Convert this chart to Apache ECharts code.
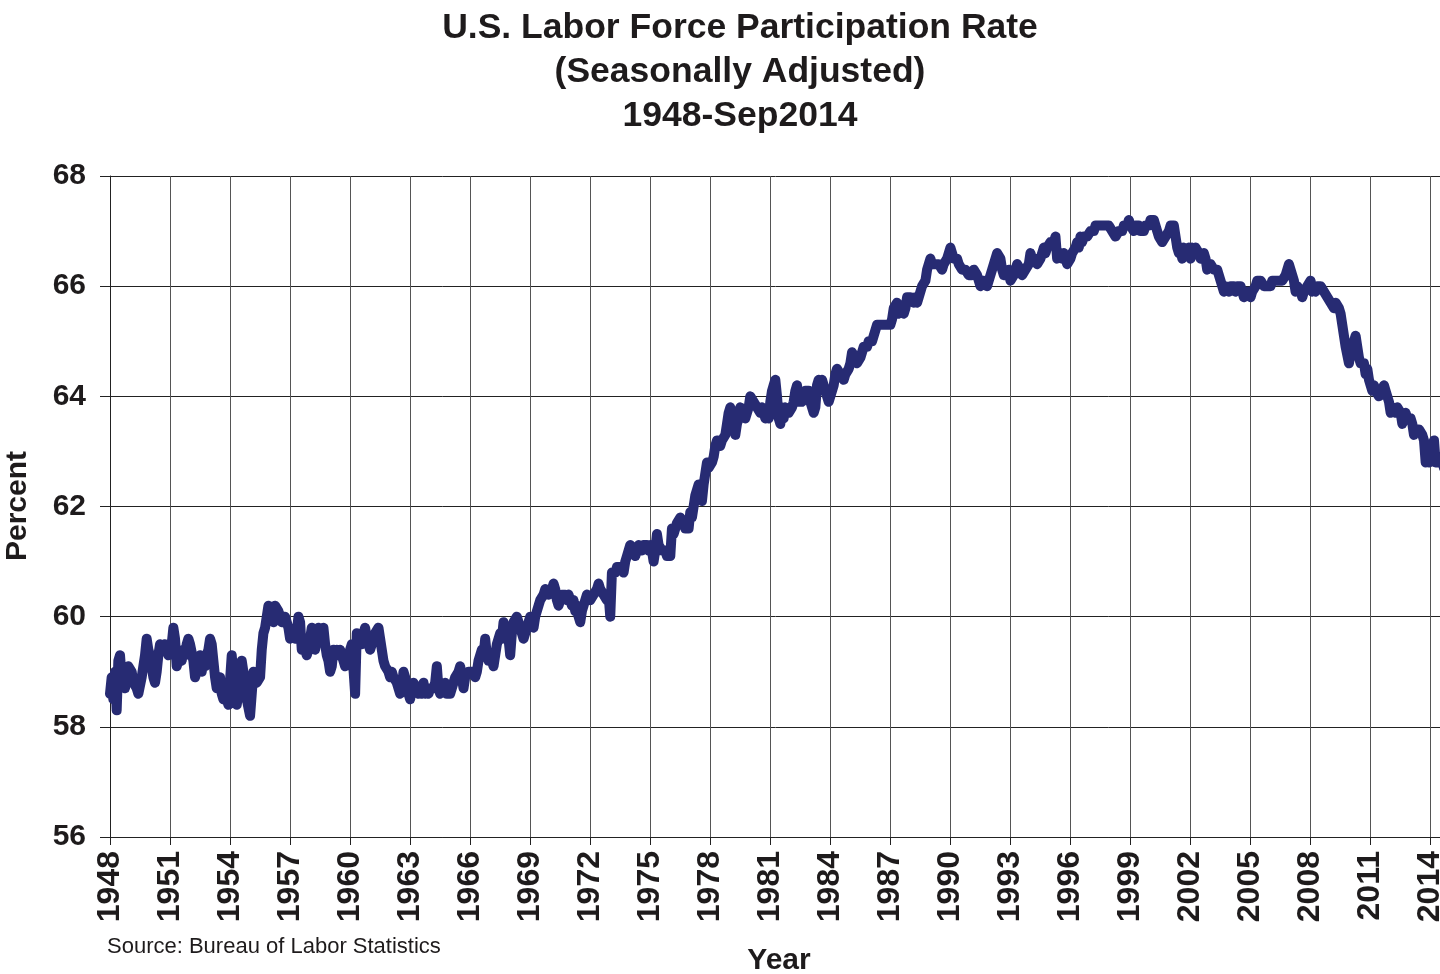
<!DOCTYPE html>
<html>
<head>
<meta charset="utf-8">
<script src="https://cdn.jsdelivr.net/npm/echarts@6/dist/echarts.min.js"></script>
<style>
html,body{margin:0;padding:0;background:#ffffff;overflow:hidden;}
#chart{width:1440px;height:974px;}
</style>
</head>
<body>
<div id="chart"></div>
<script>
// ---- data (monthly, seasonally adjusted, percent) ----
const firstYear = 1948;
const rate1940s = [
  58.6, 58.9, 58.5, 59.0, 58.3, 59.2, 59.3, 58.9, 58.9, 58.7, 58.7, 59.1,
  59.1, 59.0, 58.8, 58.8, 58.7, 58.6, 58.6, 58.9, 59.1, 59.3, 59.6, 59.4
];
const rate1950s = [
  59.3, 59.1, 58.9, 58.8, 59.0, 59.3, 59.5, 59.4, 59.4, 59.5, 59.4, 59.3,
  59.3, 59.5, 59.8, 59.6, 59.1, 59.1, 59.3, 59.2, 59.4, 59.3, 59.5, 59.6,
  59.5, 59.5, 59.2, 58.9, 59.0, 59.1, 59.3, 59.0, 59.2, 59.1, 59.3, 59.4,
  59.6, 59.5, 59.2, 58.9, 58.7, 58.8, 58.9, 58.6, 58.5, 58.6, 58.6, 58.4,
  58.4, 59.3, 58.9, 58.6, 58.4, 58.6, 58.9, 59.2, 59.0, 58.6, 58.5, 58.5,
  58.2, 58.6, 59.0, 58.9, 58.8, 58.8, 58.9, 59.4, 59.7, 59.8, 60.0, 60.2,
  60.2, 60.0, 59.9, 60.2, 60.2, 60.1, 60.0, 59.9, 59.9, 60.0, 60.0, 59.8,
  59.6, 59.6, 59.7, 59.6, 59.7, 60.0, 59.9, 59.4, 59.5, 59.4, 59.3, 59.4,
  59.4, 59.8, 59.5, 59.4, 59.6, 59.8, 59.8, 59.7, 59.8, 59.5, 59.3, 59.2,
  59.0, 59.1, 59.4, 59.3, 59.4, 59.3, 59.4, 59.3, 59.3, 59.1, 59.2, 59.3
];
const rate1960s = [
  59.4, 59.5, 59.5, 58.6, 59.7, 59.6, 59.6, 59.5, 59.7, 59.8, 59.6, 59.5,
  59.4, 59.4, 59.6, 59.7, 59.7, 59.8, 59.6, 59.6, 59.2, 59.1, 59.1, 59.0,
  58.9, 59.0, 58.9, 58.9, 58.8, 58.8, 58.6, 58.7, 59.0, 58.9, 58.7, 58.6,
  58.5, 58.7, 58.8, 58.8, 58.7, 58.6, 58.7, 58.6, 58.8, 58.6, 58.7, 58.6,
  58.7, 58.7, 58.7, 58.8, 59.1, 58.7, 58.6, 58.7, 58.7, 58.8, 58.6, 58.6,
  58.6, 58.7, 58.8, 58.9, 58.9, 59.0, 59.1, 58.9, 58.7, 58.9, 58.9, 59.0,
  59.0, 59.0, 59.0, 58.9, 59.0, 59.2, 59.3, 59.4, 59.3, 59.6, 59.3, 59.2,
  59.2, 59.2, 59.1, 59.3, 59.5, 59.6, 59.7, 59.6, 59.9, 59.8, 59.7, 59.6,
  59.3, 59.7, 59.9, 59.9, 60.0, 59.9, 59.8, 59.7, 59.6, 59.6, 59.8, 59.9,
  60.0, 60.0, 59.8, 60.0, 60.1, 60.2, 60.3, 60.3, 60.4, 60.5, 60.5, 60.4
];
const rate1970s = [
  60.4, 60.5, 60.6, 60.5, 60.3, 60.2, 60.3, 60.4, 60.4, 60.4, 60.3, 60.4,
  60.3, 60.2, 60.3, 60.1, 60.2, 60.0, 59.9, 60.1, 60.2, 60.3, 60.4, 60.4,
  60.3, 60.3, 60.4, 60.4, 60.5, 60.6, 60.5, 60.5, 60.4, 60.4, 60.3, 60.4,
  60.0, 60.8, 60.8, 60.8, 60.9, 60.9, 60.9, 60.9, 60.8, 61.0, 61.1, 61.1,
  61.3, 61.3, 61.2, 61.1, 61.1, 61.3, 61.3, 61.2, 61.3, 61.3, 61.3, 61.2,
  61.3, 61.2, 61.0, 61.2, 61.5, 61.3, 61.3, 61.2, 61.2, 61.2, 61.1, 61.1,
  61.1, 61.6, 61.5, 61.6, 61.7, 61.7, 61.8, 61.8, 61.7, 61.6, 61.6, 61.6,
  61.9, 61.8, 62.0, 62.2, 62.3, 62.4, 62.3, 62.1, 62.4, 62.6, 62.8, 62.7,
  62.7, 62.8, 62.9, 63.1, 63.2, 63.2, 63.1, 63.2, 63.2, 63.3, 63.5, 63.7,
  63.8, 63.7, 63.6, 63.3, 63.5, 63.6, 63.8, 63.7, 63.7, 63.6, 63.7, 63.8
];
const rate1980s = [
  64.0, 64.0, 63.9, 63.9, 63.8, 63.8, 63.7, 63.8, 63.7, 63.6, 63.7, 63.6,
  63.9, 64.1, 64.2, 64.3, 64.0, 63.6, 63.5, 63.8, 63.6, 63.8, 63.8, 63.7,
  63.7, 63.8, 63.9, 64.1, 64.2, 63.9, 64.0, 63.9, 64.0, 64.1, 64.1, 64.1,
  63.9, 63.9, 63.7, 63.8, 64.2, 64.3, 64.2, 64.3, 64.3, 64.1, 64.1, 63.9,
  63.9, 64.1, 64.2, 64.4, 64.5, 64.5, 64.4, 64.4, 64.3, 64.4, 64.4, 64.5,
  64.6, 64.8, 64.8, 64.7, 64.6, 64.6, 64.7, 64.8, 64.9, 64.9, 64.9, 65.0,
  65.0, 65.0, 65.1, 65.2, 65.3, 65.3, 65.3, 65.3, 65.3, 65.3, 65.3, 65.3,
  65.3, 65.4, 65.6, 65.6, 65.7, 65.5, 65.5, 65.6, 65.5, 65.6, 65.8, 65.8,
  65.8, 65.8, 65.7, 65.8, 65.7, 65.8, 65.8, 66.0, 66.0, 66.1, 66.3, 66.4,
  66.5, 66.4, 66.4, 66.4, 66.4, 66.4, 66.4, 66.3, 66.4, 66.4, 66.5, 66.5
];
const rate1990s = [
  66.7, 66.6, 66.5, 66.5, 66.5, 66.4, 66.4, 66.3, 66.3, 66.3, 66.3, 66.2,
  66.2, 66.2, 66.3, 66.3, 66.2, 66.1, 66.0, 66.0, 66.1, 66.1, 66.0, 66.0,
  66.2, 66.3, 66.4, 66.5, 66.6, 66.6, 66.5, 66.3, 66.2, 66.2, 66.2, 66.3,
  66.1, 66.1, 66.2, 66.3, 66.4, 66.4, 66.3, 66.2, 66.2, 66.3, 66.3, 66.4,
  66.6, 66.5, 66.5, 66.5, 66.4, 66.4, 66.5, 66.6, 66.7, 66.6, 66.7, 66.7,
  66.8, 66.8, 66.8, 66.9, 66.5, 66.5, 66.6, 66.5, 66.6, 66.5, 66.4, 66.4,
  66.5, 66.6, 66.6, 66.7, 66.8, 66.7, 66.9, 66.8, 66.9, 66.9, 66.9, 66.9,
  67.0, 67.0, 67.0, 67.1, 67.1, 67.1, 67.1, 67.1, 67.1, 67.1, 67.1, 67.1,
  67.1, 67.0, 67.0, 66.9, 66.9, 67.0, 67.0, 67.0, 67.1, 67.1, 67.1, 67.2,
  67.1, 67.1, 67.0, 67.1, 67.1, 67.1, 67.0, 67.0, 67.0, 67.1, 67.1, 67.1
];
const rate2000s = [
  67.2, 67.2, 67.2, 67.2, 67.0, 66.9, 66.9, 66.8, 66.8, 66.9, 66.9, 67.0,
  67.1, 67.1, 67.1, 66.9, 66.7, 66.6, 66.7, 66.5, 66.7, 66.6, 66.6, 66.7,
  66.5, 66.7, 66.6, 66.7, 66.7, 66.6, 66.5, 66.5, 66.6, 66.5, 66.3, 66.3,
  66.4, 66.4, 66.3, 66.3, 66.3, 66.3, 66.1, 66.0, 65.9, 66.0, 66.0, 65.9,
  66.0, 66.0, 66.0, 65.9, 66.0, 66.0, 66.0, 65.9, 65.8, 65.9, 65.9, 65.9,
  65.8, 65.9, 65.9, 66.0, 66.1, 66.1, 66.1, 66.1, 66.0, 66.0, 66.0, 66.0,
  66.0, 66.1, 66.1, 66.1, 66.1, 66.1, 66.1, 66.1, 66.1, 66.2, 66.3, 66.4,
  66.3, 66.2, 66.1, 65.9, 66.0, 66.0, 65.9, 65.8, 65.9, 65.9, 66.0, 66.0,
  66.1, 65.9, 66.0, 65.9, 66.0, 66.0, 66.0, 66.0, 65.9, 65.9, 65.8, 65.8,
  65.7, 65.7, 65.6, 65.7, 65.7, 65.6, 65.5, 65.3, 65.1, 64.9, 64.9, 64.6
];
const rate2010s = [
  64.8, 64.9, 64.9, 65.1, 64.9, 64.7, 64.6, 64.6, 64.6, 64.4, 64.5, 64.3,
  64.2, 64.1, 64.2, 64.1, 64.1, 64.0, 64.0, 64.1, 64.2, 64.1, 64.0, 63.9,
  63.7, 63.8, 63.8, 63.7, 63.8, 63.8, 63.7, 63.5, 63.6, 63.7, 63.6, 63.6,
  63.6, 63.5, 63.3, 63.4, 63.4, 63.4, 63.4, 63.3, 63.2, 62.8, 63.0, 62.8,
  63.0, 63.0, 63.2, 62.8, 62.8, 62.8, 62.9, 62.9, 62.7
];
const titleLines = ['U.S. Labor Force Participation Rate', '(Seasonally Adjusted)', '1948-Sep2014'];
const sourceText = 'Source: Bureau of Labor Statistics';
const xAxisTitle = 'Year';
const yAxisTitle = 'Percent';

// ---- build series ----
const monthly = [].concat(rate1940s, rate1950s, rate1960s, rate1970s, rate1980s, rate1990s, rate2000s, rate2010s);
const points = monthly.map((v, i) => [firstYear + i / 12, v]);
const lastX = points[points.length - 1][0];

const FONT = '"Liberation Sans", Arial, Helvetica, sans-serif';
const TXT = '#1e1b1c';

const chart = echarts.init(document.getElementById('chart'), null, {renderer: 'canvas'});
chart.setOption({
  animation: false,
  backgroundColor: '#ffffff',
  grid: {left: 110, top: 176, width: 1334, height: 661, containLabel: false, outerBoundsMode: 'none'},
  xAxis: {
    type: 'value',
    min: firstYear,
    max: lastX,
    interval: 3,
    axisLine: {show: true, lineStyle: {color: '#222', width: 1}},
    axisTick: {show: true, inside: false, length: 8, lineStyle: {color: '#222', width: 1}},
    splitLine: {show: true, lineStyle: {color: '#555', width: 1}},
    axisLabel: {
      rotate: 90, margin: 14, color: TXT, fontFamily: FONT, fontWeight: 'bold', fontSize: 32,
      formatter: v => (Math.abs(v - Math.round(v)) < 1e-6 ? String(Math.round(v)) : '')
    }
  },
  yAxis: {
    type: 'value',
    min: 56, max: 68, interval: 2,
    axisLine: {show: true, lineStyle: {color: '#222', width: 1}},
    axisTick: {show: true, inside: false, length: 10, lineStyle: {color: '#222', width: 1}},
    splitLine: {show: true, lineStyle: {color: '#222', width: 1}},
    axisLabel: {margin: 24, color: TXT, fontFamily: FONT, fontWeight: 'bold', fontSize: 30}
  },
  series: [{
    type: 'line',
    data: points,
    showSymbol: false,
    clip: true,
    lineStyle: {color: '#272b73', width: 10, cap: 'round', join: 'round'},
    itemStyle: {color: '#272b73'}
  }],
  graphic: [
    {type: 'text', x: 740, y: 28, style: {text: titleLines[0], fill: TXT, font: 'bold 35.5px ' + FONT, textAlign: 'center', textVerticalAlign: 'middle'}},
    {type: 'text', x: 740, y: 72, style: {text: titleLines[1], fill: TXT, font: 'bold 35.5px ' + FONT, textAlign: 'center', textVerticalAlign: 'middle'}},
    {type: 'text', x: 740, y: 116, style: {text: titleLines[2], fill: TXT, font: 'bold 35.5px ' + FONT, textAlign: 'center', textVerticalAlign: 'middle'}},
    {type: 'text', x: 107, y: 947, style: {text: sourceText, fill: TXT, font: '22px ' + FONT, textAlign: 'left', textVerticalAlign: 'middle'}},
    {type: 'text', x: 779, y: 961, style: {text: xAxisTitle, fill: TXT, font: 'bold 30px ' + FONT, textAlign: 'center', textVerticalAlign: 'middle'}},
    {type: 'text', x: 18, y: 506, rotation: Math.PI / 2, style: {text: yAxisTitle, fill: TXT, font: 'bold 30px ' + FONT, textAlign: 'center', textVerticalAlign: 'middle'}}
  ]
});
</script>
</body>
</html>
